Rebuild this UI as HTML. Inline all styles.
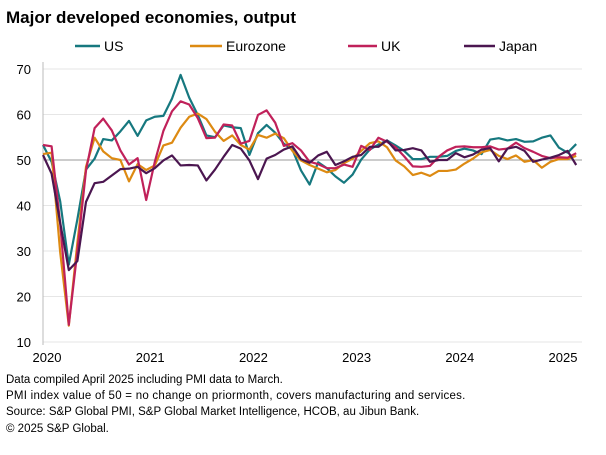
<!DOCTYPE html>
<html><head><meta charset="utf-8"><style>
body{margin:0;background:#fff;font-family:"Liberation Sans",Arial,sans-serif;}
#wrap{position:relative;width:606px;height:455px;overflow:hidden}
.title{position:absolute;left:6px;top:8px;font-size:17px;font-weight:bold;color:#000}
.note{position:absolute;left:6px;font-size:11.5px;color:#000;white-space:nowrap}
</style></head><body>
<div id="wrap">
<div class="title">Major developed economies, output</div>
<svg id="svg" width="606" height="455" style="position:absolute;left:0;top:0"></svg>
<div class="note" style="top:374px">Data compiled April 2025 including PMI data to March.</div>
<div class="note" style="top:390px;letter-spacing:0.25px">PMI index value of 50 = no change on priormonth, covers manufacturing and services.</div>
<div class="note" style="top:406px">Source: S&amp;P Global PMI, S&amp;P Global Market Intelligence, HCOB, au Jibun Bank.</div>
<div class="note" style="top:423px">© 2025 S&amp;P Global.</div>
</div>
<script>
const yTicks=[10,20,30,40,50,60,70];
const xYears=["2020","2021","2022","2023","2024","2025"];
const seriesNames=["US","Eurozone","UK","Japan"];
const seriesColors=["#16787f","#dd8a12","#c0215a","#4b1650"];
const us=[53.3,49.6,40.9,27.0,37.0,47.9,50.3,54.6,54.3,56.3,58.6,55.3,58.7,59.5,59.7,63.5,68.7,63.7,59.9,55.4,55.0,57.6,57.2,57.0,51.1,55.9,57.7,56.0,53.6,52.3,47.7,44.6,49.5,48.2,46.4,45.0,46.8,50.1,52.3,53.4,54.3,53.2,52.0,50.2,50.2,50.7,50.7,50.9,52.0,52.5,52.1,51.3,54.5,54.8,54.3,54.6,54.0,54.1,54.9,55.4,52.7,51.6,53.5];
const ez=[51.3,51.6,29.7,13.6,31.9,48.5,54.9,51.9,50.4,50.0,45.3,49.1,47.8,48.8,53.2,53.8,57.1,59.5,60.2,59.0,56.2,54.2,55.4,53.3,52.3,55.5,54.9,55.8,54.8,52.0,49.9,48.9,48.1,47.3,47.8,49.3,50.3,52.0,53.7,54.1,52.8,49.9,48.6,46.7,47.2,46.5,47.6,47.6,47.9,49.2,50.3,51.7,52.2,50.9,50.2,51.0,49.6,50.0,48.3,49.6,50.2,50.2,50.9];
const uk=[53.3,53.0,36.0,13.8,30.0,47.7,57.0,59.1,56.5,52.1,49.0,50.4,41.2,49.6,56.4,60.7,62.9,62.2,59.2,54.8,54.9,57.8,57.6,53.6,54.2,59.9,60.9,58.2,53.1,53.7,52.1,49.6,49.1,48.2,48.2,49.0,48.5,53.1,52.2,54.9,54.0,52.8,50.8,48.6,48.5,48.7,50.7,52.1,52.9,53.0,52.8,52.8,53.0,52.3,52.5,53.8,52.6,51.8,50.9,50.4,50.6,50.5,51.5];
const jp=[51.1,47.0,36.2,25.8,27.8,40.8,44.9,45.2,46.6,48.0,48.1,48.5,47.1,48.2,49.9,51.0,48.8,48.9,48.8,45.5,47.9,50.7,53.3,52.5,49.9,45.8,50.3,51.1,52.3,53.0,50.2,49.4,51.0,51.8,48.9,49.7,50.7,51.1,52.9,52.9,54.3,52.1,52.2,52.6,52.1,49.6,50.0,50.0,51.5,50.6,51.2,52.3,52.6,49.7,52.5,52.9,52.0,49.6,50.1,50.5,51.1,52.0,48.9];
const allSeries=[us,ez,uk,jp];
const NS="http://www.w3.org/2000/svg";
const svg=document.getElementById('svg');
const L=43,R=582,monthW=8.6;
function xs(i){return L+i*monthW;}
function ys(v){return 69+(70-v)*4.55;}
function mk(t,a){const e=document.createElementNS(NS,t);for(const k in a)e.setAttribute(k,a[k]);svg.appendChild(e);return e;}
yTicks.forEach(v=>{
 const g=mk('line',{x1:L,x2:R,y1:ys(v),y2:ys(v),stroke:v===50?'#9a9a9a':'#e6e6e6','stroke-width':1});
 
 
 const t=mk('text',{x:31,y:ys(v)+5,'text-anchor':'end','font-size':13,fill:'#000'});
 t.textContent=v;
 
 
});
const ax=mk('line',{x1:L,x2:L,y1:62,y2:345,stroke:'#bbb','stroke-width':1});


xYears.forEach((y,i)=>{
 const t=mk('text',{x:xs(i*12)+4,y:362,'text-anchor':'middle','font-size':13,fill:'#000'});
 t.textContent=y;
 
 
});
allSeries.forEach((s,k)=>{
 const p=mk('polyline',{points:s.map((v,i)=>xs(i)+','+ys(v)).join(' '),fill:'none',stroke:seriesColors[k],'stroke-width':2.2,'stroke-linejoin':'round'});
 
 
});
const legX=[[75,104],[190,226],[348,381],[464,499]];
seriesNames.forEach((n,k)=>{
 const l=mk('line',{x1:legX[k][0],x2:legX[k][1]-4,y1:46,y2:46,stroke:seriesColors[k],'stroke-width':2.5});
 
 
 const t=mk('text',{x:legX[k][1],y:51,'font-size':14,fill:'#000'});
 t.textContent=n;
 
 
});
</script>
</body></html>
